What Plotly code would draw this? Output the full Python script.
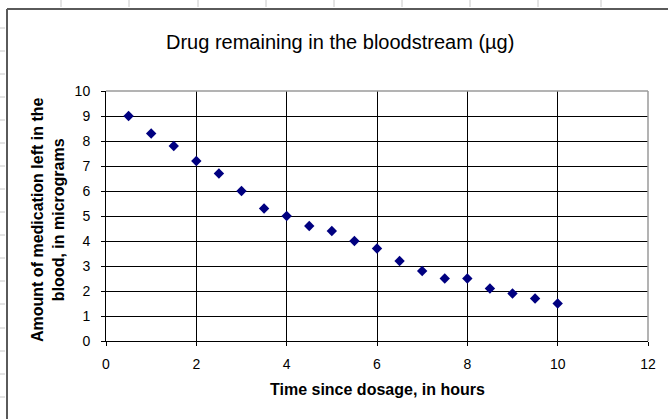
import plotly.graph_objects as go

# Data
hours = [0.5, 1, 1.5, 2, 2.5, 3, 3.5, 4, 4.5, 5, 5.5, 6, 6.5, 7, 7.5, 8, 8.5, 9, 9.5, 10]
amount = [9.0, 8.3, 7.8, 7.2, 6.7, 6.0, 5.3, 5.0, 4.6, 4.4, 4.0, 3.7, 3.2, 2.8, 2.5, 2.5, 2.1, 1.9, 1.7, 1.5]
x_ticks = [0, 2, 4, 6, 8, 10, 12]
y_ticks = list(range(0, 11))

title_text = "Drug remaining in the bloodstream (µg)"
x_title = "Time since dosage, in hours"
y_title = "Amount of medication left in the<br>blood, in micrograms"

W, H = 668, 419
ML, MR, MT, MB = 106, 20, 91, 78
PW, PH = W - ML - MR, H - MT - MB

def px(x):
    return (x - ML) / PW

def py(y):
    return (H - MB - y) / PH

FONT = "Liberation Sans, Arial, sans-serif"

fig = go.Figure()
fig.add_trace(go.Scatter(
    x=hours, y=amount, mode="markers",
    marker=dict(symbol="diamond", size=8, color="#000080"),
    showlegend=False,
))

fig.update_layout(
    width=W, height=H,
    margin=dict(l=ML, r=MR, t=MT, b=MB),
    paper_bgcolor="white", plot_bgcolor="white",
    font=dict(family=FONT, size=14, color="black"),
    xaxis=dict(
        range=[0, 12], tickvals=x_ticks, ticks="outside", ticklen=4,
        tickcolor="black", showline=True, linecolor="black", linewidth=1,
        showgrid=True, gridcolor="black", gridwidth=1, zeroline=False,
        tickfont=dict(size=14, family=FONT), ticklabelstandoff=6,
    ),
    yaxis=dict(
        range=[0, 10], tickvals=y_ticks, ticks="outside", ticklen=4,
        tickcolor="black", showline=True, linecolor="black", linewidth=1,
        showgrid=True, gridcolor="black", gridwidth=1, zeroline=False,
        tickfont=dict(size=14, family=FONT), ticklabelstandoff=8,
    ),
)

# plot area border (gray top/right)
fig.add_shape(type="line", xref="paper", yref="paper", x0=0, x1=1, y0=1, y1=1,
              line=dict(color="#9a9a9a", width=1.5))
fig.add_shape(type="line", xref="paper", yref="paper", x0=1, x1=1, y0=0, y1=1,
              line=dict(color="#9a9a9a", width=1.5))

# chart outer border (left and top)
fig.add_shape(type="line", xref="paper", yref="paper", x0=px(7), x1=px(7), y0=py(9), y1=py(H + 5),
              line=dict(color="#5a5a5a", width=2))
fig.add_shape(type="line", xref="paper", yref="paper", x0=px(7), x1=px(W + 5), y0=py(9), y1=py(9),
              line=dict(color="#5a5a5a", width=2))

# spreadsheet cell stubs outside chart
for xs in [61, 129, 198, 266, 334, 402, 470, 538, 601]:
    fig.add_shape(type="line", xref="paper", yref="paper", x0=px(xs), x1=px(xs), y0=py(0), y1=py(7),
                  line=dict(color="#c8c8c8", width=1))
for ys in [28, 51, 74, 97, 120, 143, 166, 189, 212, 235, 258, 281, 304, 328, 351, 374, 397]:
    fig.add_shape(type="line", xref="paper", yref="paper", x0=px(0), x1=px(5), y0=py(ys), y1=py(ys),
                  line=dict(color="#c8c8c8", width=1))

# titles
fig.add_annotation(text=title_text, xref="paper", yref="paper", x=px(340), y=py(42),
                   showarrow=False, font=dict(size=20, family=FONT, color="black"),
                   xanchor="center", yanchor="middle")
fig.add_annotation(text="<b>" + x_title + "</b>", xref="paper", yref="paper", x=px(377), y=py(389),
                   showarrow=False, font=dict(size=16, family=FONT, color="black"),
                   xanchor="center", yanchor="middle")
fig.add_annotation(text="<b>" + y_title + "</b>", xref="paper", yref="paper", x=px(48), y=py(220),
                   showarrow=False, textangle=-90, font=dict(size=16, family=FONT, color="black"),
                   xanchor="center", yanchor="middle")

fig.write_html("out.html",
               config={"displayModeBar": False},
               post_script="document.body.style.margin='0';document.body.style.overflow='hidden';")
